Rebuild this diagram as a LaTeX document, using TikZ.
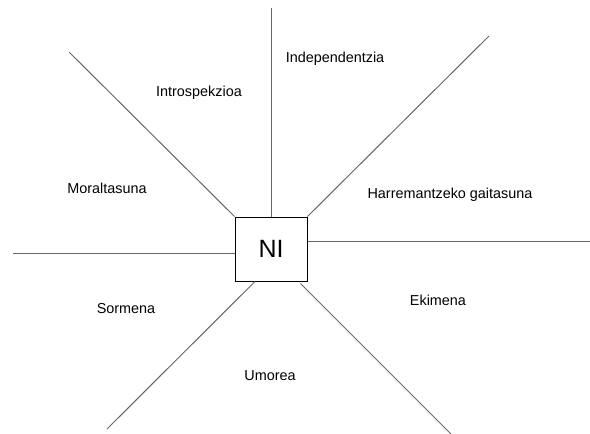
\documentclass[tikz,border=0pt]{standalone}
\usepackage{fontspec}
\setmainfont{Liberation Sans}

\begin{document}
\begin{tikzpicture}[x=1pt,y=-1pt,
		spoke/.style={draw=black!60,line width=1pt},
		lbl/.style={font=\fontsize{14.4}{17}\selectfont,inner sep=0pt}]
		\useasboundingbox (0,0) rectangle (590,434);
		\node[draw=black,line width=1pt,minimum width=72pt,minimum height=64pt,inner sep=0pt,font=\fontsize{25}{30}\selectfont] (ni) at (271,249) {NI};
		%
		\coordinate (up) at (271,8);
		\coordinate (upleft) at (69,52);
		\coordinate (upright) at (489,36);
		\coordinate (right) at (590,241);
		\coordinate (left) at (13,253);
		\coordinate (downleft) at (107,429);
		\coordinate (downright) at (451,434);
		%
		\draw[spoke] (ni.north) -- (up);
		\draw[spoke] (ni.north west) -- (upleft);
		\draw[spoke] (ni.north east) -- (upright);
		\draw[spoke] ([yshift=8pt]ni.east) -- (right);
		\draw[spoke] ([yshift=-4pt]ni.west) -- (left);
		\draw[spoke] ([xshift=-16pt]ni.south) -- (downleft);
		\draw[spoke] ([xshift=-7pt,yshift=-2pt]ni.south east) -- (downright);
		%
		\node[lbl] (indep) at (335,59) {Independentzia};
		\node[lbl] (intro) at (199,93) {Introspekzioa};
		\node[lbl] (moral) at (107,188) {Moraltasuna};
		\node[lbl] (harre) at (450,195) {Harremantzeko gaitasuna};
		\node[lbl] (sorm) at (126,309) {Sormena};
		\node[lbl] (ekim) at (438,300) {Ekimena};
		\node[lbl] (umor) at (270,376) {Umorea};
	\end{tikzpicture}
\end{document}
